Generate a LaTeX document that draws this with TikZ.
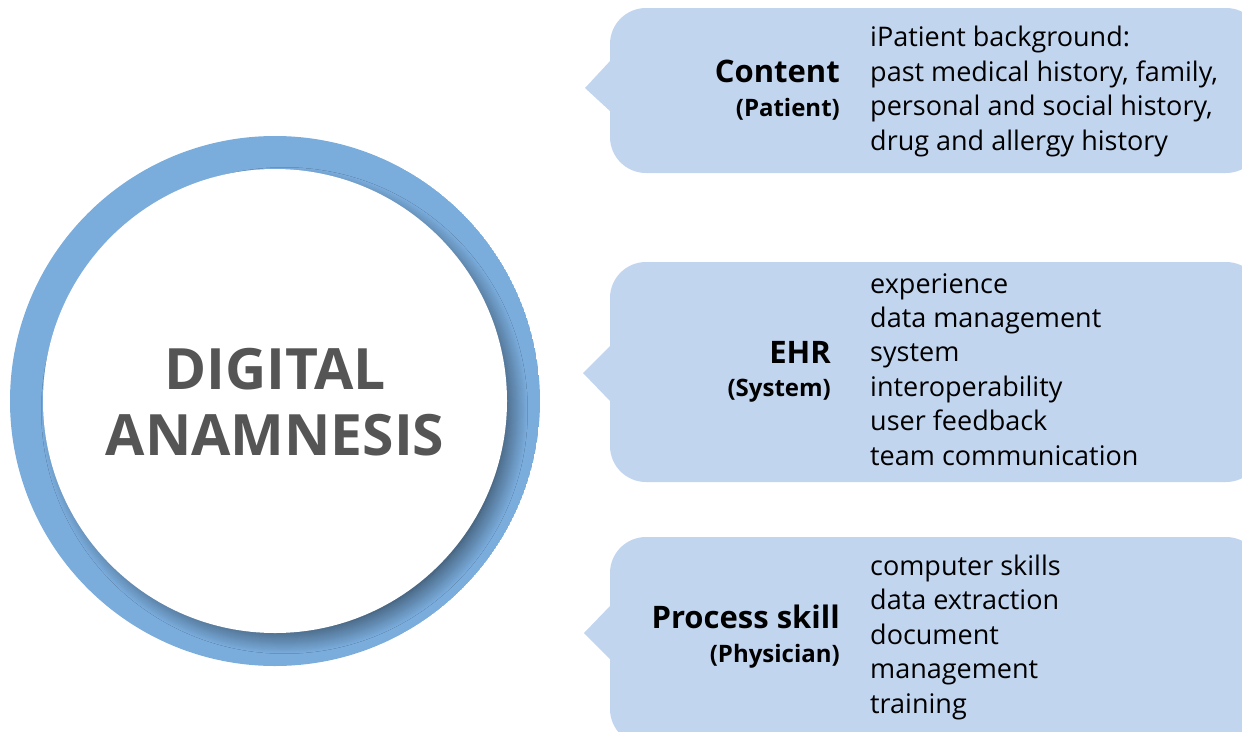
\documentclass[tikz,border=0pt]{standalone}
\usepackage{fontspec}
\setmainfont{Open Sans}
\usetikzlibrary{shadows.blur}

\definecolor{ringblue}{HTML}{7AACDC}
\definecolor{bubbleblue}{HTML}{C2D5EF}
\definecolor{titlegray}{HTML}{555555}

\begin{document}
\begin{tikzpicture}[x=1pt, y=-1pt,
  bubble/.style={fill=bubbleblue, rounded corners=36pt},
  tip/.style={fill=bubbleblue},
  head/.style={anchor=base east, inner sep=0pt, font=\fontsize{31}{36}\selectfont\bfseries},
  sub/.style={anchor=base east, inner sep=0pt, font=\fontsize{24}{28}\selectfont\bfseries},
  items/.style={anchor=base west, inner sep=0pt, align=left, font=\fontsize{27}{34.4}\selectfont}]
\useasboundingbox (0,0) rectangle (1242,731);

% ring with the white disc and its shadow
\begin{scope}
\clip (275,401) circle (265);
\fill[ringblue] (275,401) circle (265);
\node[circle, fill=white, minimum size=464pt, inner sep=0pt,
  blur shadow={shadow xshift=10pt, shadow yshift=-10pt, shadow scale=0.95, shadow blur radius=24pt, shadow blur steps=24, shadow opacity=75}] (disc) at (275,401) {};
\end{scope}
\node[align=center, text=titlegray, font=\fontsize{57}{66}\selectfont\bfseries] (title) at (275,402) {DIGITAL\\ANAMNESIS};

% bubbles
\fill[bubble] (610,8) rectangle (1262,173);
\fill[tip] (585,88) -- (611,60) -- (611,112) -- cycle;
\fill[bubble] (610,262) rectangle (1262,482);
\fill[tip] (583,373) -- (611,345) -- (611,402) -- cycle;
\fill[bubble] (610,537) rectangle (1262,745);
\fill[tip] (584,633) -- (611,605) -- (611,660) -- cycle;

% patient
\node[head] (content) at (840,82) {Content};
\node[sub] (patient) at (840,116) {(Patient)};
\node[items] (background) at (870,150) {iPatient background:\\past medical history, family,\\personal and social history,\\drug and allergy history};

% system
\node[head] (ehr) at (831,363) {EHR};
\node[sub] (system) at (831,396) {(System)};
\node[items] (ehritems) at (870,465) {experience\\data management\\system\\interoperability\\user feedback\\team communication};

% physician
\node[head] (process) at (840,628) {Process skill};
\node[sub] (physician) at (840,662) {(Physician)};
\node[items] (skills) at (870,713) {computer skills\\data extraction\\document\\management\\training};
\end{tikzpicture}
\end{document}
